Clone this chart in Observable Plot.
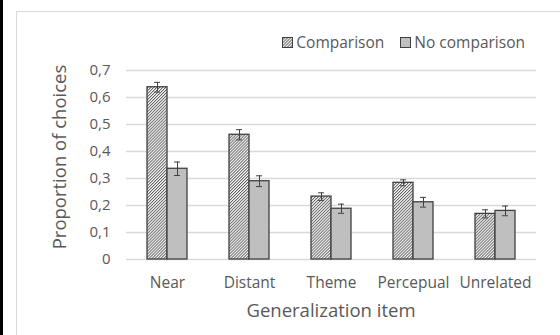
<!DOCTYPE html>
<html>
<head>
<meta charset="utf-8">
<script src="https://cdn.jsdelivr.net/npm/d3@7"></script>
<script src="https://cdn.jsdelivr.net/npm/@observablehq/plot@0.6"></script>
<style>
  html, body { margin: 0; padding: 0; background: #fff; }
  #wrap { position: relative; width: 560px; height: 335px; overflow: hidden; font-family: "Open Sans", sans-serif; }
  #bar { position: absolute; left: 0; top: 0; width: 3px; height: 335px; background: #000; }
  #frame { position: absolute; left: 16px; top: 11px; width: 600px; height: 400px; border: 1px solid #d9d9d9; box-sizing: border-box; }
  #legend { position: absolute; top: 31px; right: 35px; font-size: 15.5px; color: #595959; display: flex; gap: 16px; white-space: nowrap; }
  #legend span.item { display: inline-flex; align-items: center; gap: 3px; }
  #legend svg { display: block; }
  #chart { position: absolute; left: 0; top: 0; }
</style>
</head>
<body>
<div id="wrap">
  <div id="bar"></div>
  <div id="frame"></div>
  <div id="chart"></div>
  <div id="legend"></div>
</div>
<script>
const categories = ["Near", "Distant", "Theme", "Percepual", "Unrelated"];
const seriesNames = ["Comparison", "No comparison"];
const comparison = [0.638, 0.462, 0.233, 0.284, 0.169];
const comparisonErr = [0.018, 0.019, 0.014, 0.011, 0.015];
const noComparison = [0.336, 0.290, 0.188, 0.212, 0.180];
const noComparisonErr = [0.025, 0.020, 0.017, 0.018, 0.018];
const yTicks = [0, 0.1, 0.2, 0.3, 0.4, 0.5, 0.6, 0.7];

const rows = [];
categories.forEach((c, i) => {
  rows.push({cat: c, series: seriesNames[0], value: comparison[i], err: comparisonErr[i]});
  rows.push({cat: c, series: seriesNames[1], value: noComparison[i], err: noComparisonErr[i]});
});

const fmt = d => d === 0 ? "0" : String(+d.toFixed(1)).replace(".", ",");

const plot = Plot.plot({
  width: 560,
  height: 335,
  marginLeft: 126,
  marginRight: 24,
  marginTop: 70,
  marginBottom: 76,
  style: {fontFamily: "Open Sans, sans-serif", fontSize: "15px", color: "#595959", background: "transparent"},
  fx: {domain: categories, padding: 0, label: null, axis: null},
  x: {domain: seriesNames, paddingInner: 0, paddingOuter: 1.05, axis: null},
  y: {domain: [0, 0.7], label: null},
  marks: [
    Plot.gridY(yTicks, {stroke: "#d9d9d9", strokeOpacity: 1, strokeWidth: 1.3}),
    Plot.barY(rows, {
      fx: "cat", x: "series", y: "value",
      fill: d => d.series === seriesNames[0] ? "url(#hatch)" : "#bfbfbf",
      stroke: "#404040", strokeWidth: 1.3
    }),
    Plot.ruleX(rows, {fx: "cat", x: "series", y1: d => d.value - d.err, y2: d => d.value + d.err, stroke: "#404040", strokeWidth: 1}),
    Plot.tickY(rows, {fx: "cat", x: "series", y: d => d.value - d.err, stroke: "#404040", strokeWidth: 1, insetLeft: 7, insetRight: 7}),
    Plot.tickY(rows, {fx: "cat", x: "series", y: d => d.value + d.err, stroke: "#404040", strokeWidth: 1, insetLeft: 7, insetRight: 7}),
    Plot.axisY({ticks: yTicks, tickFormat: fmt, tickSize: 0, tickPadding: 16, fontSize: 15, label: null}),
    Plot.axisFx({anchor: "bottom", tickSize: 0, tickPadding: 17, fontSize: 15.5, label: null}),
  ]
});

// hatch pattern
const svg = d3.select(plot);
const defs = svg.insert("defs", ":first-child");
const pat = defs.append("pattern").attr("id", "hatch").attr("patternUnits", "userSpaceOnUse")
  .attr("width", 2.1).attr("height", 2.1).attr("patternTransform", "rotate(45)");
pat.append("rect").attr("width", 2.1).attr("height", 2.1).attr("fill", "#fff");
pat.append("line").attr("x1", 0.5).attr("y1", 0).attr("x2", 0.5).attr("y2", 2.1).attr("stroke", "#404040").attr("stroke-width", 0.8);

// axis titles
svg.append("text")
  .attr("transform", "translate(61,157) rotate(-90)")
  .attr("text-anchor", "middle").attr("dominant-baseline", "middle")
  .attr("font-size", 18.5).attr("fill", "#595959").attr("font-family", "Open Sans, sans-serif")
  .text("Proportion of choices");
svg.append("text")
  .attr("x", 331).attr("y", 312)
  .attr("text-anchor", "middle").attr("dominant-baseline", "middle")
  .attr("font-size", 18.5).attr("fill", "#595959").attr("font-family", "Open Sans, sans-serif")
  .text("Generalization item");

document.getElementById("chart").appendChild(plot);

// legend
const legend = d3.select("#legend");
seriesNames.forEach((s, i) => {
  const item = legend.append("span").attr("class", "item");
  const sw = item.append("svg").attr("width", 11).attr("height", 11);
  if (i === 0) {
    const d2 = sw.append("defs").append("pattern").attr("id", "hatchL").attr("patternUnits", "userSpaceOnUse")
      .attr("width", 2.1).attr("height", 2.1).attr("patternTransform", "rotate(45)");
    d2.append("rect").attr("width", 2.1).attr("height", 2.1).attr("fill", "#fff");
    d2.append("line").attr("x1", 0.5).attr("y1", 0).attr("x2", 0.5).attr("y2", 2.1).attr("stroke", "#404040").attr("stroke-width", 0.8);
  }
  sw.append("rect").attr("x", 0.5).attr("y", 0.5).attr("width", 10).attr("height", 10)
    .attr("fill", i === 0 ? "url(#hatchL)" : "#bfbfbf").attr("stroke", "#404040").attr("stroke-width", 1);
  item.append("span").text(s);
});
</script>
</body>
</html>
